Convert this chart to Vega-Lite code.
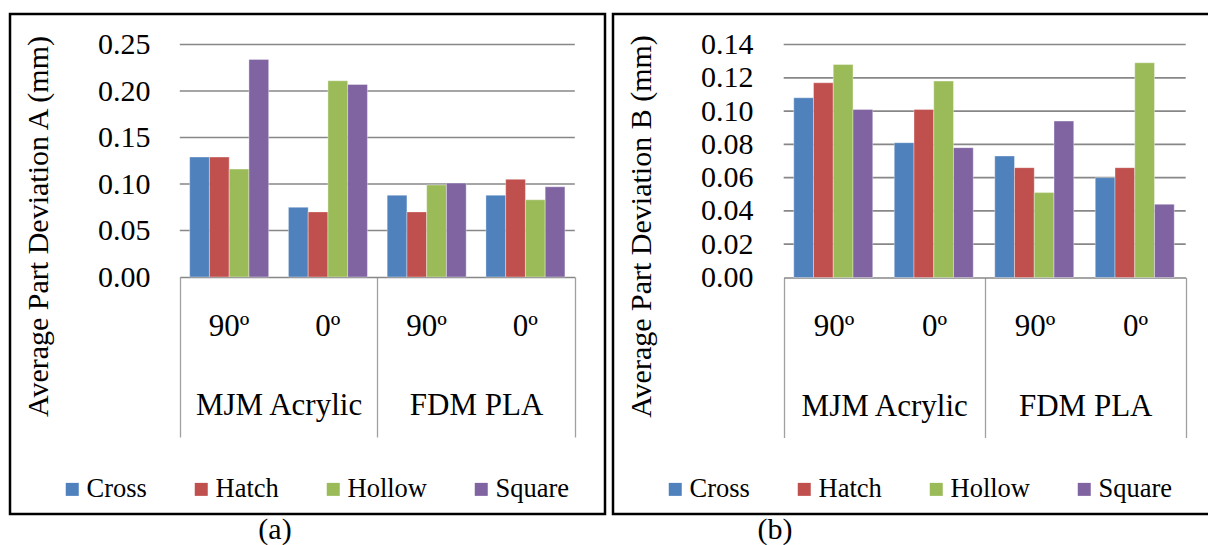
{
  "$schema": "https://vega.github.io/schema/vega-lite/v6.json",
  "padding": {"left": 8, "top": 12, "right": 0, "bottom": 0},
  "background": "white",
  "spacing": 4,
  "config": {
    "view": {"stroke": "black", "strokeWidth": 2.5, "fill": "white"},
    "font": "Liberation Serif",
    "axis": {"labelFont": "Liberation Serif", "titleFont": "Liberation Serif", "labelColor": "black", "titleColor": "black"},
    "legend": {"labelFont": "Liberation Serif", "titleFont": "Liberation Serif"},
    "title": {"font": "Liberation Serif"}
  },
  "datasets": {
    "a": [
      {"group": "MJM Acrylic 90º", "infill": "Cross", "dev": 0.129},
      {"group": "MJM Acrylic 90º", "infill": "Hatch", "dev": 0.129},
      {"group": "MJM Acrylic 90º", "infill": "Hollow", "dev": 0.116},
      {"group": "MJM Acrylic 90º", "infill": "Square", "dev": 0.234},
      {"group": "MJM Acrylic 0º", "infill": "Cross", "dev": 0.075},
      {"group": "MJM Acrylic 0º", "infill": "Hatch", "dev": 0.070},
      {"group": "MJM Acrylic 0º", "infill": "Hollow", "dev": 0.211},
      {"group": "MJM Acrylic 0º", "infill": "Square", "dev": 0.207},
      {"group": "FDM PLA 90º", "infill": "Cross", "dev": 0.088},
      {"group": "FDM PLA 90º", "infill": "Hatch", "dev": 0.070},
      {"group": "FDM PLA 90º", "infill": "Hollow", "dev": 0.099},
      {"group": "FDM PLA 90º", "infill": "Square", "dev": 0.101},
      {"group": "FDM PLA 0º", "infill": "Cross", "dev": 0.088},
      {"group": "FDM PLA 0º", "infill": "Hatch", "dev": 0.105},
      {"group": "FDM PLA 0º", "infill": "Hollow", "dev": 0.083},
      {"group": "FDM PLA 0º", "infill": "Square", "dev": 0.097}
    ],
    "b": [
      {"group": "MJM Acrylic 90º", "infill": "Cross", "dev": 0.108},
      {"group": "MJM Acrylic 90º", "infill": "Hatch", "dev": 0.117},
      {"group": "MJM Acrylic 90º", "infill": "Hollow", "dev": 0.128},
      {"group": "MJM Acrylic 90º", "infill": "Square", "dev": 0.101},
      {"group": "MJM Acrylic 0º", "infill": "Cross", "dev": 0.081},
      {"group": "MJM Acrylic 0º", "infill": "Hatch", "dev": 0.101},
      {"group": "MJM Acrylic 0º", "infill": "Hollow", "dev": 0.118},
      {"group": "MJM Acrylic 0º", "infill": "Square", "dev": 0.078},
      {"group": "FDM PLA 90º", "infill": "Cross", "dev": 0.073},
      {"group": "FDM PLA 90º", "infill": "Hatch", "dev": 0.066},
      {"group": "FDM PLA 90º", "infill": "Hollow", "dev": 0.051},
      {"group": "FDM PLA 90º", "infill": "Square", "dev": 0.094},
      {"group": "FDM PLA 0º", "infill": "Cross", "dev": 0.060},
      {"group": "FDM PLA 0º", "infill": "Hatch", "dev": 0.066},
      {"group": "FDM PLA 0º", "infill": "Hollow", "dev": 0.129},
      {"group": "FDM PLA 0º", "infill": "Square", "dev": 0.044}
    ],
    "gridA": [{"g": 0.05}, {"g": 0.10}, {"g": 0.15}, {"g": 0.20}, {"g": 0.25}],
    "gridB": [{"g": 0.02}, {"g": 0.04}, {"g": 0.06}, {"g": 0.08}, {"g": 0.10}, {"g": 0.12}, {"g": 0.14}],
    "mat": [{"material": "MJM Acrylic"}, {"material": "FDM PLA"}]
  },
  "hconcat": [
    {
      "width": 595,
      "height": 500,
      "title": {"text": "(a)", "orient": "bottom", "anchor": "middle", "dx": -32.5, "offset": 1, "fontSize": 30, "fontWeight": "normal", "color": "black"},
      "resolve": {"scale": {"x": "independent"}},
      "layer": [
        {
          "data": {"name": "gridA"},
          "mark": {"type": "rule", "color": "#878787", "strokeWidth": 1.7},
          "encoding": {
            "x": {"datum": 0, "type": "quantitative", "scale": {"domain": [0, 1], "range": [169.8, 564.8]}, "axis": null},
            "x2": {"datum": 1},
            "y": {"field": "g", "type": "quantitative", "scale": {"domain": [0, 0.25], "range": [263, 30.5]},
              "axis": {"orient": "left", "offset": -142, "title": "Average Part Deviation A (mm)", "titleFontSize": 30, "titleFontWeight": "normal", "titlePadding": 44, "titleY": 212, "values": [0, 0.05, 0.1, 0.15, 0.2, 0.25], "format": ".2f", "labelFontSize": 30, "labelPadding": 2, "labelOverlap": false, "ticks": false, "tickSize": 0, "domain": false, "grid": false}}
          }
        },
        {
          "data": {"name": "a"},
          "mark": {"type": "bar", "stroke": "white", "strokeWidth": 0.8, "strokeOpacity": 0.45},
          "encoding": {
            "x": {"field": "group", "type": "nominal", "sort": ["MJM Acrylic 90º", "MJM Acrylic 0º", "FDM PLA 90º", "FDM PLA 0º"],
              "scale": {"range": [169.8, 564.8], "paddingInner": 0.2, "paddingOuter": 0.1},
              "axis": {"orient": "bottom", "offset": -237, "title": null, "domain": false, "ticks": false, "tickSize": 0, "grid": false, "labelPadding": 58, "labelBaseline": "alphabetic", "labelFontSize": 31, "labelAngle": 0, "labelExpr": "split(datum.value, ' ')[2]"}},
            "xOffset": {"field": "infill", "type": "nominal", "sort": ["Cross", "Hatch", "Hollow", "Square"], "scale": {"paddingInner": 0, "paddingOuter": 0}},
            "y": {"field": "dev", "type": "quantitative", "scale": {"domain": [0, 0.25], "range": [263, 30.5]},
              "axis": {"orient": "left", "offset": -142, "title": "Average Part Deviation A (mm)", "titleFontSize": 30, "titleFontWeight": "normal", "titlePadding": 44, "titleY": 212, "values": [0, 0.05, 0.1, 0.15, 0.2, 0.25], "format": ".2f", "labelFontSize": 30, "labelPadding": 2, "labelOverlap": false, "ticks": false, "tickSize": 0, "domain": false, "grid": false}},
            "color": {"field": "infill", "type": "nominal", "sort": ["Cross", "Hatch", "Hollow", "Square"],
              "scale": {"domain": ["Cross", "Hatch", "Hollow", "Square"], "range": ["#4F81BD", "#C0504D", "#9BBB59", "#8064A2"]},
              "legend": {"orient": "none", "legendX": 49, "legendY": 462, "direction": "horizontal", "columns": 4, "columnPadding": 41, "symbolType": "square", "symbolSize": 169, "symbolStrokeWidth": 0, "labelFontSize": 26.5, "labelOffset": 1, "labelColor": "black", "title": null, "padding": 0}}
          }
        },
        {
          "data": {"name": "mat"},
          "mark": {"type": "rule", "opacity": 0},
          "encoding": {
            "x": {"field": "material", "type": "nominal", "sort": ["MJM Acrylic", "FDM PLA"],
              "scale": {"range": [169.8, 564.8], "paddingInner": 0, "paddingOuter": 0},
              "axis": {"orient": "bottom", "offset": -237, "title": null, "domain": true, "domainColor": "#878787", "domainWidth": 1.7, "ticks": true, "tickBand": "extent", "tickSize": 160, "tickColor": "#a0a0a0", "tickWidth": 1.3, "grid": false, "labelPadding": -22.5, "labelBaseline": "alphabetic", "labelFontSize": 31, "labelAngle": 0}}
          }
        }
      ]
    },
    {
      "width": 600,
      "height": 500,
      "title": {"text": "(b)", "orient": "bottom", "anchor": "middle", "dx": -138, "offset": 1, "fontSize": 30, "fontWeight": "normal", "color": "black"},
      "resolve": {"scale": {"x": "independent"}},
      "layer": [
        {
          "data": {"name": "gridB"},
          "mark": {"type": "rule", "color": "#878787", "strokeWidth": 1.7},
          "encoding": {
            "x": {"datum": 0, "type": "quantitative", "scale": {"domain": [0, 1], "range": [170.7, 572.7]}, "axis": null},
            "x2": {"datum": 1},
            "y": {"field": "g", "type": "quantitative", "scale": {"domain": [0, 0.14], "range": [263.5, 30.5]},
              "axis": {"orient": "left", "offset": -142, "title": "Average Part Deviation B (mm)", "titleFontSize": 30, "titleFontWeight": "normal", "titlePadding": 44, "titleY": 212, "values": [0, 0.02, 0.04, 0.06, 0.08, 0.1, 0.12, 0.14], "format": ".2f", "labelFontSize": 30, "labelPadding": 2, "labelOverlap": false, "ticks": false, "tickSize": 0, "domain": false, "grid": false}}
          }
        },
        {
          "data": {"name": "b"},
          "mark": {"type": "bar", "stroke": "white", "strokeWidth": 0.8, "strokeOpacity": 0.45},
          "encoding": {
            "x": {"field": "group", "type": "nominal", "sort": ["MJM Acrylic 90º", "MJM Acrylic 0º", "FDM PLA 90º", "FDM PLA 0º"],
              "scale": {"range": [170.7, 572.7], "paddingInner": 0.2, "paddingOuter": 0.1},
              "axis": {"orient": "bottom", "offset": -236.5, "title": null, "domain": false, "ticks": false, "tickSize": 0, "grid": false, "labelPadding": 58, "labelBaseline": "alphabetic", "labelFontSize": 31, "labelAngle": 0, "labelExpr": "split(datum.value, ' ')[2]"}},
            "xOffset": {"field": "infill", "type": "nominal", "sort": ["Cross", "Hatch", "Hollow", "Square"], "scale": {"paddingInner": 0, "paddingOuter": 0}},
            "y": {"field": "dev", "type": "quantitative", "scale": {"domain": [0, 0.14], "range": [263.5, 30.5]},
              "axis": {"orient": "left", "offset": -142, "title": "Average Part Deviation B (mm)", "titleFontSize": 30, "titleFontWeight": "normal", "titlePadding": 44, "titleY": 212, "values": [0, 0.02, 0.04, 0.06, 0.08, 0.1, 0.12, 0.14], "format": ".2f", "labelFontSize": 30, "labelPadding": 2, "labelOverlap": false, "ticks": false, "tickSize": 0, "domain": false, "grid": false}},
            "color": {"field": "infill", "type": "nominal", "sort": ["Cross", "Hatch", "Hollow", "Square"],
              "scale": {"domain": ["Cross", "Hatch", "Hollow", "Square"], "range": ["#4F81BD", "#C0504D", "#9BBB59", "#8064A2"]},
              "legend": {"orient": "none", "legendX": 49, "legendY": 462, "direction": "horizontal", "columns": 4, "columnPadding": 41, "symbolType": "square", "symbolSize": 169, "symbolStrokeWidth": 0, "labelFontSize": 26.5, "labelOffset": 1, "labelColor": "black", "title": null, "padding": 0}}
          }
        },
        {
          "data": {"name": "mat"},
          "mark": {"type": "rule", "opacity": 0},
          "encoding": {
            "x": {"field": "material", "type": "nominal", "sort": ["MJM Acrylic", "FDM PLA"],
              "scale": {"range": [170.7, 572.7], "paddingInner": 0, "paddingOuter": 0},
              "axis": {"orient": "bottom", "offset": -236.5, "title": null, "domain": true, "domainColor": "#878787", "domainWidth": 1.7, "ticks": true, "tickBand": "extent", "tickSize": 160, "tickColor": "#a0a0a0", "tickWidth": 1.3, "grid": false, "labelPadding": -22.5, "labelBaseline": "alphabetic", "labelFontSize": 31, "labelAngle": 0}}
          }
        }
      ]
    }
  ],
  "resolve": {"scale": {"color": "independent", "x": "independent", "y": "independent"}}
}
